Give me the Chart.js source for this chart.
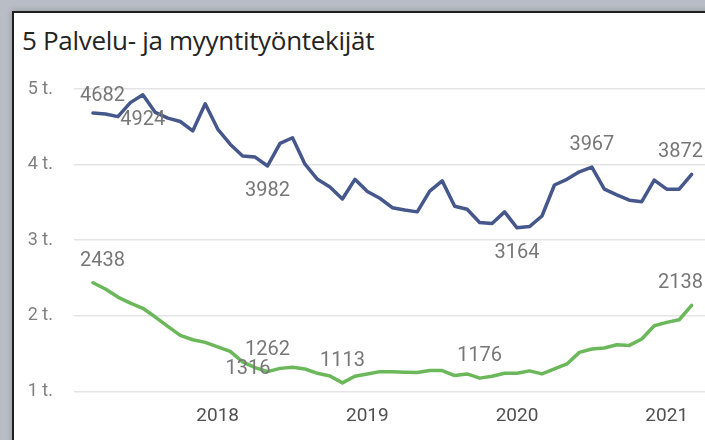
<!DOCTYPE html>
<html>
<head>
<meta charset="utf-8">
<script src="https://cdn.jsdelivr.net/npm/chart.js@4/dist/chart.umd.min.js"></script>
<style>
  html, body { margin: 0; padding: 0; }
  body { width: 705px; height: 440px; overflow: hidden; background: #b9bdc5; position: relative; }
  #panel { position: absolute; left: 12px; top: 11px; width: 760px; height: 520px; background: #fff;
           border: 2px solid #1f1f1f; box-shadow: 0 0 6px rgba(0,0,0,0.25); }
  #title { position: absolute; left: 22px; top: 22px; font-family: "Open Sans", sans-serif; font-size: 26px;
           color: #252423; white-space: nowrap; letter-spacing: -0.3px; }
  #wrap { position: absolute; left: 0; top: 0; width: 705px; height: 440px; }
</style>
</head>
<body>
<div id="panel"></div>
<div id="title">5 Palvelu- ja myyntityöntekijät</div>
<div id="wrap"><canvas id="c" width="705" height="440"></canvas></div>
<script>
// ---- data ----
const months = [
  "2017-03","2017-04","2017-05","2017-06","2017-07","2017-08","2017-09","2017-10","2017-11","2017-12",
  "2018-01","2018-02","2018-03","2018-04","2018-05","2018-06","2018-07","2018-08","2018-09","2018-10","2018-11","2018-12",
  "2019-01","2019-02","2019-03","2019-04","2019-05","2019-06","2019-07","2019-08","2019-09","2019-10","2019-11","2019-12",
  "2020-01","2020-02","2020-03","2020-04","2020-05","2020-06","2020-07","2020-08","2020-09","2020-10","2020-11","2020-12",
  "2021-01","2021-02","2021-03"
];
const blueValues = [
  4682,4670,4635,4820,4924,4690,4615,4570,4445,4805,
  4470,4270,4115,4100,3982,4280,4355,4005,3805,3705,3545,3805,
  3645,3555,3430,3400,3375,3650,3785,3450,3410,3235,3220,3375,
  3164,3180,3320,3730,3805,3905,3967,3675,3600,3530,3510,3795,
  3675,3675,3872
];
const greenValues = [
  2438,2354,2248,2169,2100,1984,1860,1741,1684,1649,
  1588,1530,1390,1316,1262,1305,1320,1297,1240,1205,1113,1200,
  1230,1262,1262,1255,1250,1276,1276,1210,1232,1176,1200,1240,
  1240,1272,1232,1297,1363,1517,1561,1575,1618,1609,1693,1869,
  1913,1948,2138
];
const yearTicks = [2018, 2019, 2020, 2021];
const yTickValues = [1000, 2000, 3000, 4000, 5000];
// which points carry a data label, and where
const blueLabels = [[0,"above"],[4,"below"],[14,"below"],[34,"below"],[40,"above"],[48,"above"]];
const greenLabels = [[0,"above"],[13,"side"],[14,"above"],[20,"above"],[31,"above"],[48,"above"]];

// month index since Jan 2017
const monthIndex = m => { const [y, mo] = m.split("-").map(Number); return (y - 2017) * 12 + (mo - 1); };
const toPoints = vals => vals.map((v, i) => ({ x: monthIndex(months[i]), y: v }));

const labelPlugin = {
  id: "pbiLabels",
  afterDatasetsDraw(chart) {
    const ctx = chart.ctx, area = chart.chartArea;
    ctx.save();
    ctx.font = '20px Roboto, sans-serif';
    ctx.fillStyle = '#777777';
    ctx.textAlign = 'center';
    ctx.textBaseline = 'middle';
    const sets = [[0, blueLabels], [1, greenLabels]];
    sets.forEach(([di, list]) => {
      const meta = chart.getDatasetMeta(di);
      const data = chart.data.datasets[di].data;
      list.forEach(([i, pos]) => {
        const el = meta.data[i];
        const txt = String(data[i].y);
        const w = ctx.measureText(txt).width;
        let x = el.x, y = el.y;
        if (pos === "above") y -= 22;
        else if (pos === "below") y += 25;
        else { x -= 7; y += 1; }
        const minX = area.left + 6 + w / 2, maxX = area.right - 2 - w / 2;
        x = Math.max(minX, Math.min(maxX, x));
        y = Math.max(area.top - 1 + 8, y);
        ctx.fillText(txt, x, y);
      });
    });
    ctx.restore();
  }
};

new Chart(document.getElementById('c'), {
  type: 'line',
  data: {
    datasets: [
      { data: toPoints(blueValues), borderColor: '#46578b', borderWidth: 3.5, pointRadius: 0, tension: 0, borderJoinStyle: 'round', borderCapStyle: 'round' },
      { data: toPoints(greenValues), borderColor: '#6bb85b', borderWidth: 3.5, pointRadius: 0, tension: 0, borderJoinStyle: 'round', borderCapStyle: 'round' }
    ]
  },
  options: {
    responsive: false,
    animation: false,
    layout: { padding: { top: 89, right: 0, left: 0, bottom: 0 } },
    plugins: { legend: { display: false }, tooltip: { enabled: false }, title: { display: false } },
    scales: {
      x: {
        type: 'linear', min: 0.48, max: 51.07,
        grid: { display: false, drawTicks: false },
        border: { display: false },
        afterBuildTicks: s => { s.ticks = yearTicks.map(y => ({ value: (y - 2017) * 12 })); },
        afterFit: s => { s.height = 41; },
        ticks: { padding: 6, autoSkip: false, maxRotation: 0, color: '#505050',
                 font: { family: 'Roboto, sans-serif', size: 19 },
                 callback: v => String(2017 + Math.round(v / 12)) }
      },
      y: {
        min: 900, max: 5000,
        grid: { color: '#e4e4e4', lineWidth: 1.5, drawTicks: false },
        border: { display: false },
        afterBuildTicks: s => { s.ticks = yTickValues.map(v => ({ value: v })); },
        afterFit: s => { s.width = 74; },
        ticks: { padding: 21, color: '#808080', font: { family: 'Roboto, sans-serif', size: 18 },
                 callback: v => (v / 1000) + ' t.' }
      }
    }
  },
  plugins: [labelPlugin]
});
</script>
</body>
</html>
